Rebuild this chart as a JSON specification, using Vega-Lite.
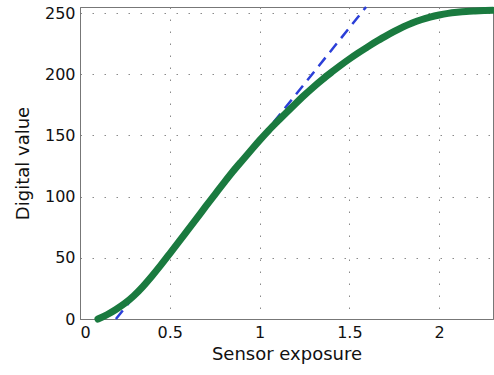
{
  "$schema": "https://vega.github.io/schema/vega-lite/v6.json",
  "width": 413,
  "height": 312,
  "autosize": {"type": "none"},
  "padding": {"left": 80, "top": 7, "right": 1, "bottom": 56},
  "background": "white",
  "config": {
    "font": "DejaVu Sans",
    "view": {"stroke": "#777777", "strokeWidth": 1},
    "axis": {
      "labelFontSize": 16,
      "labelColor": "#111111",
      "titleFontSize": 18,
      "titleFontWeight": "normal",
      "titleColor": "#111111",
      "domainColor": "#777777",
      "ticks": false,
      "grid": true,
      "gridColor": "#8a8a8a",
      "gridDash": [1.5, 10.5],
      "gridWidth": 1
    }
  },
  "datasets": {
    "response": [
      {"exposure": 0.10, "value": 0},
      {"exposure": 0.15, "value": 3.5},
      {"exposure": 0.20, "value": 7.8},
      {"exposure": 0.25, "value": 12.8},
      {"exposure": 0.30, "value": 19},
      {"exposure": 0.35, "value": 26.5},
      {"exposure": 0.40, "value": 35},
      {"exposure": 0.45, "value": 44},
      {"exposure": 0.50, "value": 53.5},
      {"exposure": 0.55, "value": 63},
      {"exposure": 0.60, "value": 72.6},
      {"exposure": 0.65, "value": 82.2},
      {"exposure": 0.70, "value": 92},
      {"exposure": 0.75, "value": 101.5},
      {"exposure": 0.80, "value": 111},
      {"exposure": 0.85, "value": 120.3},
      {"exposure": 0.90, "value": 129},
      {"exposure": 0.95, "value": 137.5},
      {"exposure": 1.00, "value": 146},
      {"exposure": 1.05, "value": 154},
      {"exposure": 1.10, "value": 161.5},
      {"exposure": 1.15, "value": 168.8},
      {"exposure": 1.20, "value": 176},
      {"exposure": 1.25, "value": 183},
      {"exposure": 1.30, "value": 189.6},
      {"exposure": 1.35, "value": 195.8},
      {"exposure": 1.40, "value": 201.6},
      {"exposure": 1.45, "value": 207.2},
      {"exposure": 1.50, "value": 212.5},
      {"exposure": 1.55, "value": 217.5},
      {"exposure": 1.60, "value": 222.2},
      {"exposure": 1.65, "value": 226.8},
      {"exposure": 1.70, "value": 231},
      {"exposure": 1.75, "value": 235},
      {"exposure": 1.80, "value": 238.7},
      {"exposure": 1.85, "value": 241.9},
      {"exposure": 1.90, "value": 244.6},
      {"exposure": 1.95, "value": 246.8},
      {"exposure": 2.00, "value": 248.5},
      {"exposure": 2.05, "value": 249.8},
      {"exposure": 2.10, "value": 250.7},
      {"exposure": 2.15, "value": 251.4},
      {"exposure": 2.20, "value": 251.8},
      {"exposure": 2.25, "value": 252.1},
      {"exposure": 2.30, "value": 252.3}
    ],
    "linearFit": [
      {"exposure": 0.2, "value": 0},
      {"exposure": 1.593, "value": 255}
    ]
  },
  "encoding": {
    "x": {
      "field": "exposure",
      "type": "quantitative",
      "scale": {"domain": [0, 2.3], "nice": false, "zero": false},
      "axis": {
        "title": "Sensor exposure",
        "values": [0, 0.5, 1, 1.5, 2],
        "format": "~g",
        "labelPadding": 5,
        "titlePadding": 5
      }
    },
    "y": {
      "field": "value",
      "type": "quantitative",
      "scale": {"domain": [0, 255], "nice": false},
      "axis": {
        "title": "Digital value",
        "values": [0, 50, 100, 150, 200, 250],
        "labelPadding": 5,
        "titlePadding": 12
      }
    }
  },
  "layer": [
    {
      "data": {"name": "linearFit"},
      "mark": {
        "type": "line",
        "color": "#2b3fd8",
        "strokeWidth": 2.5,
        "strokeDash": [11, 7]
      }
    },
    {
      "data": {"name": "response"},
      "mark": {
        "type": "line",
        "interpolate": "monotone",
        "color": "#1a7a3f",
        "strokeWidth": 7,
        "strokeCap": "round",
        "strokeJoin": "round"
      }
    }
  ]
}
